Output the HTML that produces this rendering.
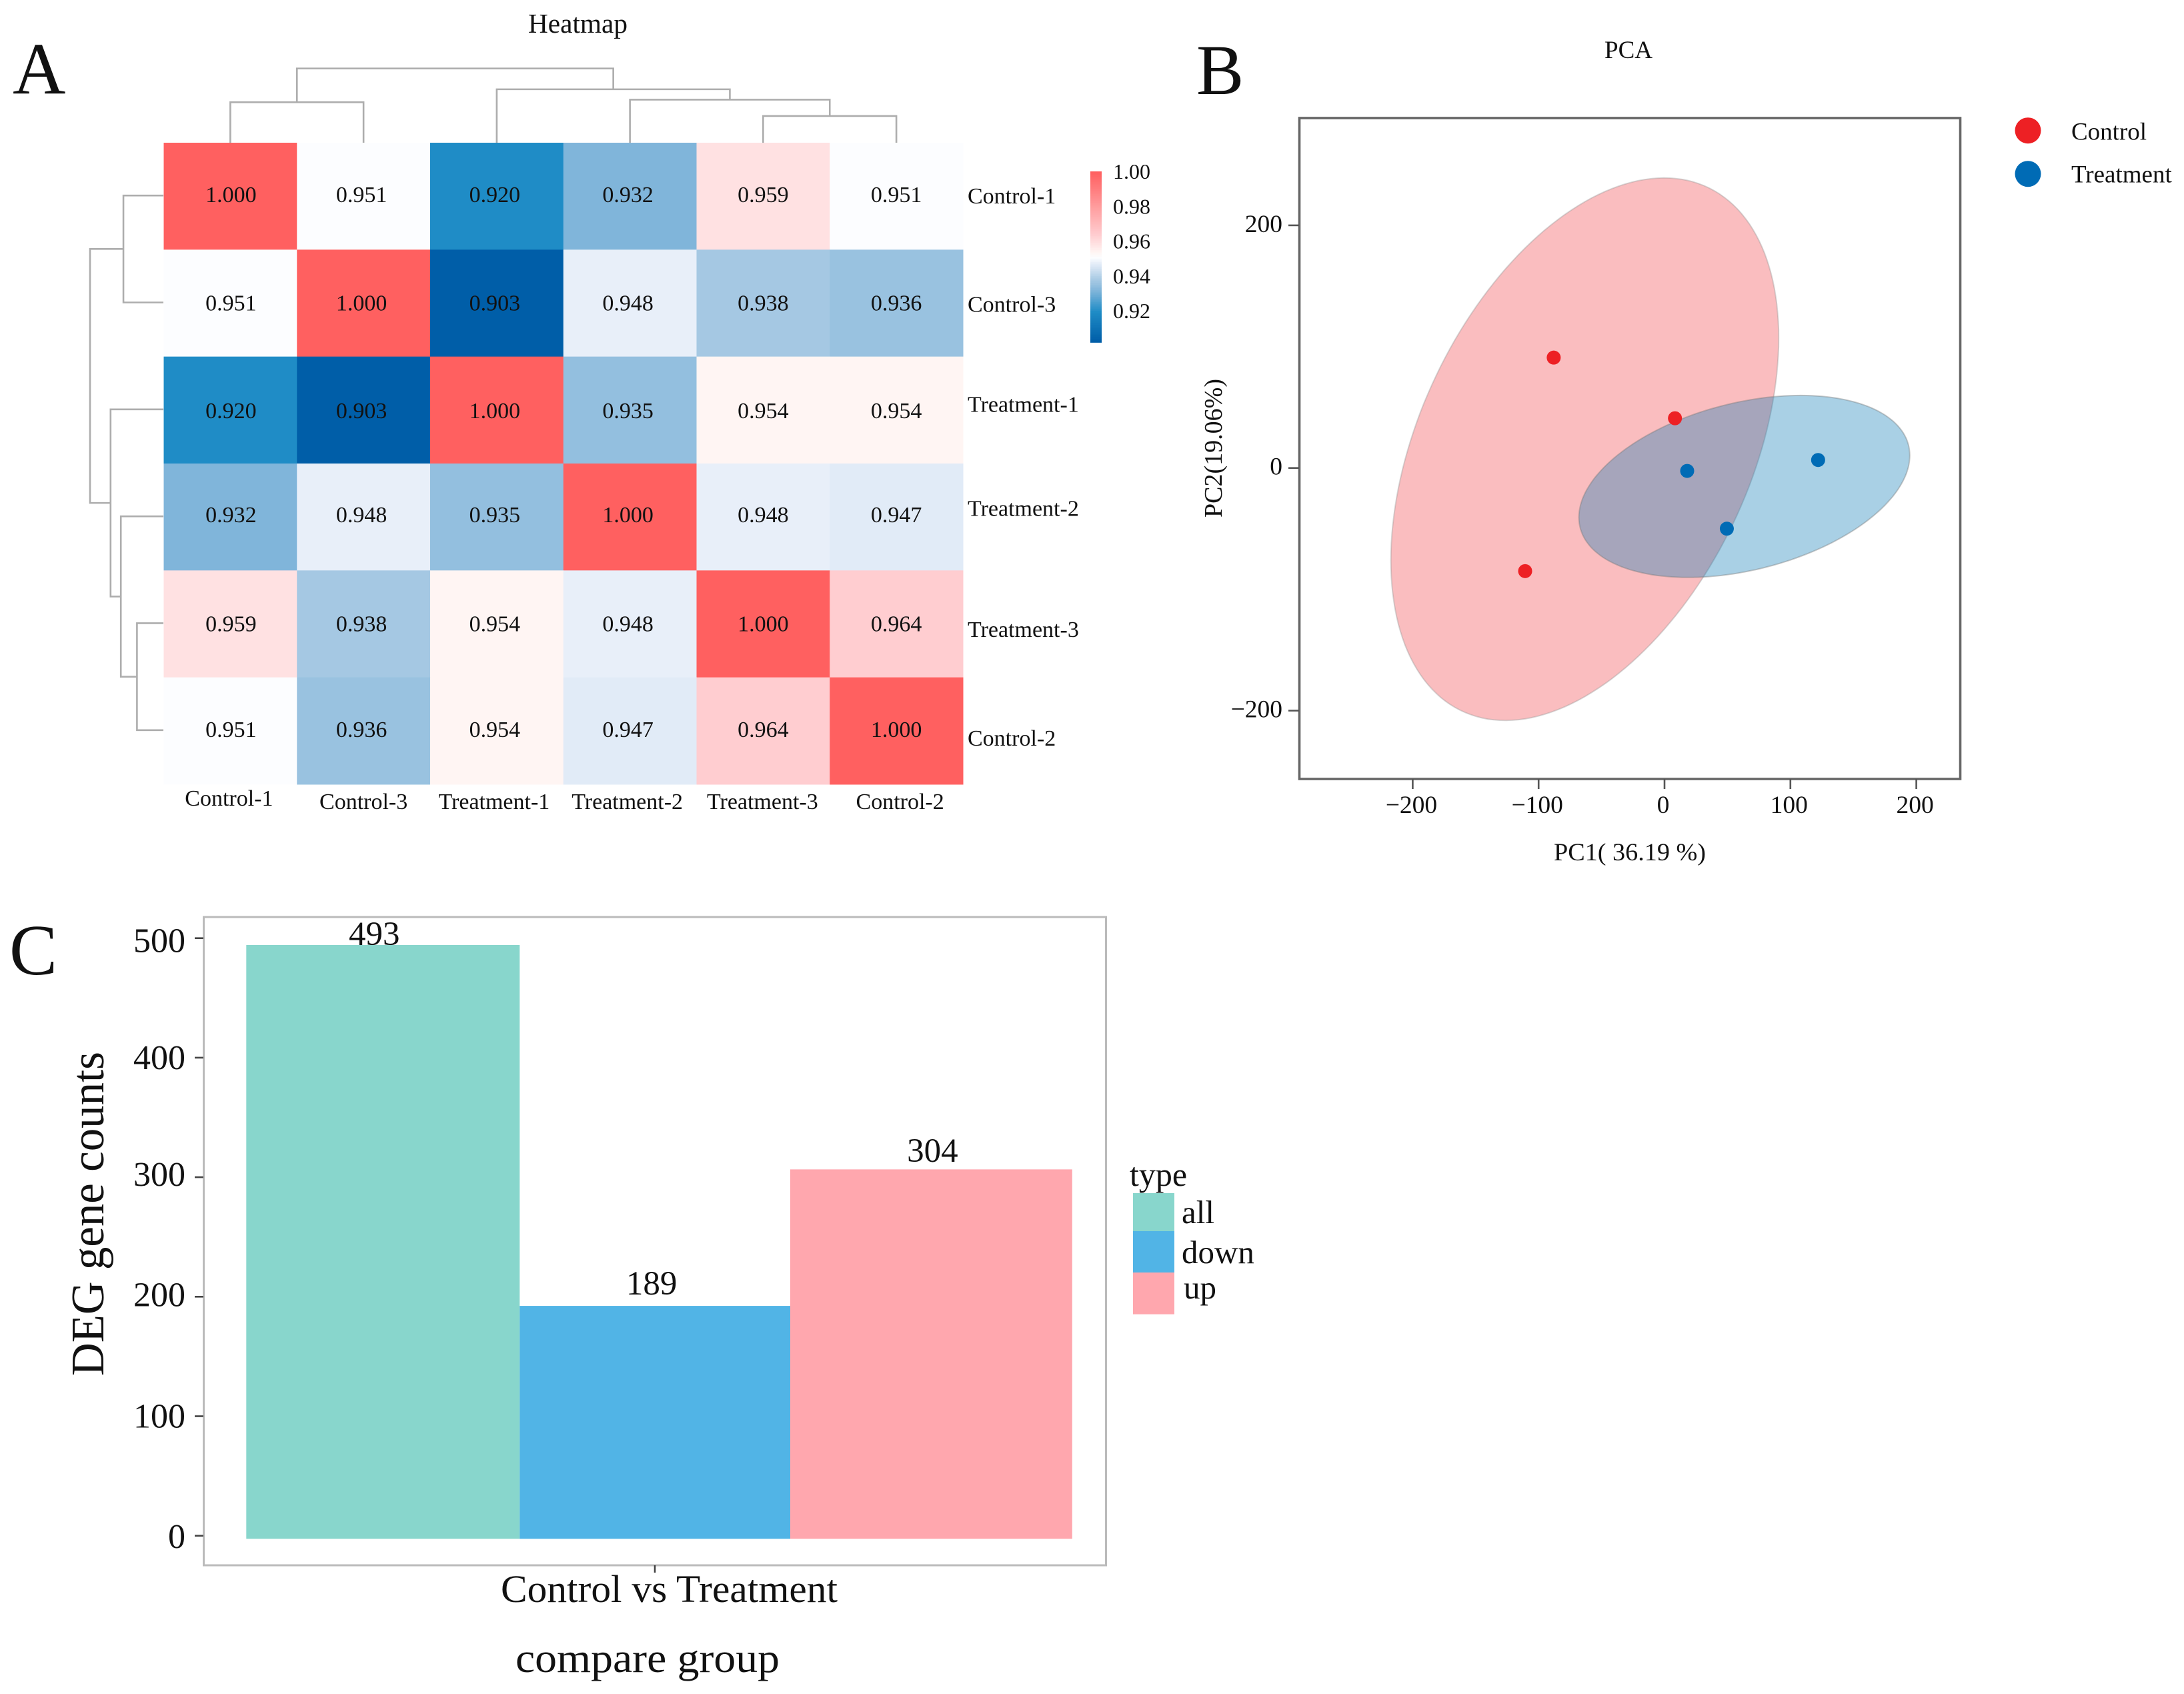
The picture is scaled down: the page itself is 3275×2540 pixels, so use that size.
<!DOCTYPE html>
<html lang="en">
<head>
<meta charset="utf-8">
<title>Heatmap, PCA and DEG counts</title>
<style>
html,body{margin:0;padding:0;background:#fff;}
svg{display:block;}
text{font-family:"Liberation Serif",serif;fill:#111;}
</style>
</head>
<body>
<svg id="figure" xmlns="http://www.w3.org/2000/svg" width="3275" height="2540" viewBox="0 0 3275 2540">
  <rect x="0" y="0" width="3275" height="2540" fill="#ffffff"/>

  <text x="19" y="140" font-size="110" fill="#000">A</text>
  <text x="1794" y="141" font-size="107" fill="#000">B</text>
  <text x="14" y="1461" font-size="108" fill="#000">C</text>

  <text x="792" y="49" font-size="41" textLength="149" lengthAdjust="spacingAndGlyphs">Heatmap</text>
  <g id="heatmap"></g>

  <text x="2406" y="87" font-size="37">PCA</text>
  <g id="pca"></g>
  <text x="2330" y="1290" font-size="37.5" textLength="228" lengthAdjust="spacingAndGlyphs">PC1( 36.19 %)</text>
  <text transform="translate(1832 776) rotate(-90)" x="0" y="0" font-size="38" textLength="208" lengthAdjust="spacingAndGlyphs">PC2(19.06%)</text>

  <g id="bars"></g>
  <text transform="translate(155 2063) rotate(-90)" x="0" y="0" font-size="70" textLength="486" lengthAdjust="spacingAndGlyphs">DEG gene counts</text>
  <text x="751" y="2402" font-size="58" textLength="505" lengthAdjust="spacingAndGlyphs">Control vs Treatment</text>
  <text x="773" y="2507" font-size="62" textLength="396" lengthAdjust="spacingAndGlyphs">compare group</text>
</svg>

<script>
/* ---------- Heatmap data ---------- */
const sampleLabels = ["Control-1", "Control-3", "Treatment-1", "Treatment-2", "Treatment-3", "Control-2"];
const correlationRow1 = [1.000, 0.951, 0.920, 0.932, 0.959, 0.951];
const correlationRow2 = [0.951, 1.000, 0.903, 0.948, 0.938, 0.936];
const correlationRow3 = [0.920, 0.903, 1.000, 0.935, 0.954, 0.954];
const correlationRow4 = [0.932, 0.948, 0.935, 1.000, 0.948, 0.947];
const correlationRow5 = [0.959, 0.938, 0.954, 0.948, 1.000, 0.964];
const correlationRow6 = [0.951, 0.936, 0.954, 0.947, 0.964, 1.000];
const correlationRows = [correlationRow1, correlationRow2, correlationRow3, correlationRow4, correlationRow5, correlationRow6];
/* merges: [child a, child b, relative distance]; ids >= 6 refer to earlier merges */
const dendrogramMerges = [[0, 1, 0.545], [4, 5, 0.36], [3, 7, 0.58], [2, 8, 0.72], [6, 9, 1]];
const colorbarTicks = [1.00, 0.98, 0.96, 0.94, 0.92];

/* ---------- PCA data ---------- */
const controlPC1 = [-88, 8.3, -110.7];
const controlPC2 = [91, 41, -85];
const treatmentPC1 = [18, 122, 49.5];
const treatmentPC2 = [-2.4, 6.6, -50];
/* centre x, centre y, half-width, half-height, correlation */
const controlEllipse = [-63.3, 15.5, 154, 223.6, 0.41];
const treatmentEllipse = [63.4, -15.2, 131.4, 75, 0.34];
const pcaXTicks = [-200, -100, 0, 100, 200];
const pcaYTicks = [200, 0, -200];
const pcaGroups = ["Control", "Treatment"];

/* ---------- Bar chart data ---------- */
const barCategories = ["all", "down", "up"];
const barValues = [493, 189, 304];
const barYTicks = [500, 400, 300, 200, 100, 0];

/* ---------- Helpers and axis functions ---------- */
const NS = "http://www.w3.org/2000/svg";
function make(tag, attrs, parent, text) {
  const node = document.createElementNS(NS, tag);
  for (const k in attrs) node.setAttribute(k, attrs[k]);
  if (text !== undefined) node.textContent = text;
  parent.appendChild(node);
  return node;
}

const heatX = i => 245.5 + i * 199.75;
const heatY = j => 214 + j * 160.33;
const dendroLeft = d => 245 - d * 110;
const dendroTop = d => 214 - d * 111.3;
const colorbarY = v => 257 + (1 - v) * 2615;
const pcaX = v => 2496 + 1.888 * v;
const pcaY = v => 701.7 - 1.819 * v;
const barTickY = v => 2302.7 - 1.792 * v;
const barTopY = v => 2294.5 - 1.78 * v;
const barBaseY = 2307.3;
function barEdge(i) { return [369.3, 779.3, 1185, 1607.8][i]; }

function heatColor(v) {
  const s = [
    [0.903, 0, 94, 168], [0.920, 31, 140, 198], [0.932, 128, 181, 218],
    [0.938, 165, 200, 227], [0.948, 232, 239, 249], [0.951, 252, 253, 255],
    [0.954, 255, 245, 243], [0.964, 255, 205, 208], [1.0, 255, 96, 96]
  ];
  if (v <= s[0][0]) return "rgb(" + s[0].slice(1).join(",") + ")";
  for (let i = 1; i < s.length; i++) {
    if (v <= s[i][0]) {
      const t = (v - s[i - 1][0]) / (s[i][0] - s[i - 1][0]);
      const c = [1, 2, 3].map(k => Math.round(s[i - 1][k] + t * (s[i][k] - s[i - 1][k])));
      return "rgb(" + c.join(",") + ")";
    }
  }
  return "rgb(255,96,96)";
}

/* ---------- Panel A: heatmap ---------- */
const heatGroup = document.getElementById("heatmap");
const rowTextNudge = [9, 11, 12, 8, 11, 9];
const colTextNudge = [1, -3, -3, -3, 0, 0];

correlationRows.forEach((row, j) => {
  row.forEach((v, i) => {
    const cell = make("rect", {
      x: heatX(i), y: heatY(j),
      width: heatX(i + 1) - heatX(i) + 0.5,
      height: heatY(j + 1) - heatY(j) + 0.5,
      fill: heatColor(v)
    }, heatGroup);
    
    
  });
});
correlationRows.forEach((row, j) => {
  row.forEach((v, i) => {
    const label = make("text", {
      x: (heatX(i) + heatX(i + 1)) / 2 + colTextNudge[i],
      y: (heatY(j) + heatY(j + 1)) / 2 + rowTextNudge[j],
      "font-size": 34, "text-anchor": "middle"
    }, heatGroup, v.toFixed(3));
    
    
  });
});

const rowLabelNudge = [11, 13, 2.5, -1.5, 19.5, 22];
sampleLabels.forEach((name, j) => {
  const label = make("text", {
    x: 1451,
    y: (heatY(j) + heatY(j + 1)) / 2 + rowLabelNudge[j],
    "font-size": 34
  }, heatGroup, name);
  
  
});

const colLabelNudge = [-2, 0, -4, -4, -1, 5.5];
const colLabelBaseline = [1208, 1213, 1213, 1213, 1213, 1213];
sampleLabels.forEach((name, i) => {
  const label = make("text", {
    x: (heatX(i) + heatX(i + 1)) / 2 + colLabelNudge[i],
    y: colLabelBaseline[i],
    "font-size": 34, "text-anchor": "middle"
  }, heatGroup, name);
  
  
});

function drawDendrogram(kind) {
  const nodes = sampleLabels.map((_, i) => ({ pos: (heatY(i) + heatY(i + 1)) / 2 - 1, col: (heatX(i) + heatX(i + 1)) / 2, d: 0 }));
  dendrogramMerges.forEach(m => {
    const a = nodes[m[0]], b = nodes[m[1]];
    nodes.push({ pos: (a.pos + b.pos) / 2, col: (a.col + b.col) / 2, d: m[2] });
    let path;
    if (kind === "row") {
      const x = dendroLeft(m[2]);
      path = "M" + dendroLeft(a.d) + " " + a.pos + "H" + x + "V" + b.pos + "H" + dendroLeft(b.d);
    } else {
      const y = dendroTop(m[2]);
      path = "M" + a.col + " " + dendroTop(a.d) + "V" + y + "H" + b.col + "V" + dendroTop(b.d);
    }
    const branch = make("path", { d: path, fill: "none", stroke: "#adadad", "stroke-width": 2.6 }, heatGroup);
    
    
  });
}
drawDendrogram("row");
drawDendrogram("col");

for (let k = 0; k < 98; k++) {
  const v = 1 - k * 0.001;
  const strip = make("rect", {
    x: 1635, y: colorbarY(v), width: 17, height: 3.2, fill: heatColor(v)
  }, heatGroup);
  
  
}
colorbarTicks.forEach(v => {
  const label = make("text", { x: 1669, y: colorbarY(v) + 11, "font-size": 32 }, heatGroup, v.toFixed(2));
  
  
});

/* ---------- Panel B: PCA ---------- */
const pcaGroup = document.getElementById("pca");
const pcaColors = ["#ed2024", "#006bb5"];

function ellipsePath(p) {
  const delta = Math.acos(p[4]);
  let d = "";
  for (let k = 0; k < 180; k++) {
    const t = k / 180 * Math.PI * 2;
    const vx = p[0] + p[2] * Math.cos(t);
    const vy = p[1] + p[3] * Math.cos(t - delta);
    d += (k ? "L" : "M") + pcaX(vx).toFixed(1) + " " + pcaY(vy).toFixed(1);
  }
  return d + "Z";
}
const redEllipse = make("path", {
  d: ellipsePath(controlEllipse), fill: "#ed1c24", "fill-opacity": 0.29,
  stroke: "#9a9a9a", "stroke-opacity": 0.4, "stroke-width": 2
}, pcaGroup);


const blueEllipse = make("path", {
  d: ellipsePath(treatmentEllipse), fill: "#0878b4", "fill-opacity": 0.35,
  stroke: "#7a7a7a", "stroke-opacity": 0.4, "stroke-width": 2
}, pcaGroup);



controlPC1.forEach((v, i) => {
  const dot = make("circle", { cx: pcaX(v), cy: pcaY(controlPC2[i]), r: 10.5, fill: pcaColors[0] }, pcaGroup);
  
  
});
treatmentPC1.forEach((v, i) => {
  const dot = make("circle", { cx: pcaX(v), cy: pcaY(treatmentPC2[i]), r: 10.5, fill: pcaColors[1] }, pcaGroup);
  
  
});

const pcaFrame = make("rect", { x: 1948.5, y: 177, width: 991, height: 991, fill: "none", stroke: "#666", "stroke-width": 3.6 }, pcaGroup);



const fmtTick = v => (v < 0 ? "\u2212" + Math.abs(v) : String(v));
pcaXTicks.forEach(v => {
  const tick = make("line", { x1: pcaX(v), x2: pcaX(v), y1: 1168, y2: 1183, stroke: "#555", "stroke-width": 2.6 }, pcaGroup);
  
  
  const label = make("text", { x: pcaX(v) - 2, y: 1219, "font-size": 37.5, "text-anchor": "middle" }, pcaGroup, fmtTick(v));
  
  
});
pcaYTicks.forEach(v => {
  const tick = make("line", { x1: 1932, x2: 1948, y1: pcaY(v), y2: pcaY(v), stroke: "#555", "stroke-width": 2.6 }, pcaGroup);
  
  
  const label = make("text", { x: 1923, y: pcaY(v) + 10, "font-size": 37.5, "text-anchor": "end" }, pcaGroup, fmtTick(v));
  
  
});

pcaGroups.forEach((name, i) => {
  const swatch = make("circle", { cx: 3041, cy: 195.7 + i * 65, r: 19.5, fill: pcaColors[i] }, pcaGroup);
  
  
  const label = make("text", { x: 3106, y: 209.5 + i * 64, "font-size": 37 }, pcaGroup, name);
  
  
});

/* ---------- Panel C: bar chart ---------- */
const barGroup = document.getElementById("bars");
const barColors = ["#88d6cc", "#51b4e6", "#ffa7ae"];
const barLabelDX = [-13, -5, 2];
const barLabelDY = [0, -17, -11.5];
const tickLabelDY = [21, 17, 13, 14, 17, 18.5];

const barFrame = make("rect", { x: 305.5, y: 1375, width: 1353, height: 972, fill: "none", stroke: "#bbbbbb", "stroke-width": 3 }, barGroup);



barValues.forEach((v, i) => {
  const label = make("text", {
    x: (barEdge(i) + barEdge(i + 1)) / 2 + barLabelDX[i],
    y: barTopY(v) + barLabelDY[i],
    "font-size": 51, "text-anchor": "middle", fill: "#000"
  }, barGroup, String(v));
  
  
});
barValues.forEach((v, i) => {
  const bar = make("rect", {
    x: barEdge(i), y: barTopY(v),
    width: barEdge(i + 1) - barEdge(i),
    height: barBaseY - barTopY(v),
    fill: barColors[i]
  }, barGroup);
  
  
});
barYTicks.forEach((v, i) => {
  const tick = make("line", { x1: 292, x2: 305, y1: barTickY(v), y2: barTickY(v), stroke: "#444", "stroke-width": 2.6 }, barGroup);
  
  
  const label = make("text", { x: 278, y: barTickY(v) + tickLabelDY[i], "font-size": 52, "text-anchor": "end", fill: "#000" }, barGroup, String(v));
  
  
});
const xTick = make("line", { x1: 982, x2: 982, y1: 2347, y2: 2358, stroke: "#444", "stroke-width": 2.6 }, barGroup);



const legendTitle = make("text", { x: 1694, y: 1778, "font-size": 50, fill: "#000" }, barGroup, "type");


const swatchEdges = [1789, 1846, 1908, 1970.6];
const legendLabelX = [1772, 1772, 1775];
const legendLabelY = [1834, 1894, 1947];
barCategories.forEach((name, i) => {
  const swatch = make("rect", { x: 1699, y: swatchEdges[i], width: 62, height: swatchEdges[i + 1] - swatchEdges[i], fill: barColors[i] }, barGroup);
  
  
  const label = make("text", { x: legendLabelX[i], y: legendLabelY[i], "font-size": 49, fill: "#000" }, barGroup, name);
  
  
});
</script>
</body>
</html>
